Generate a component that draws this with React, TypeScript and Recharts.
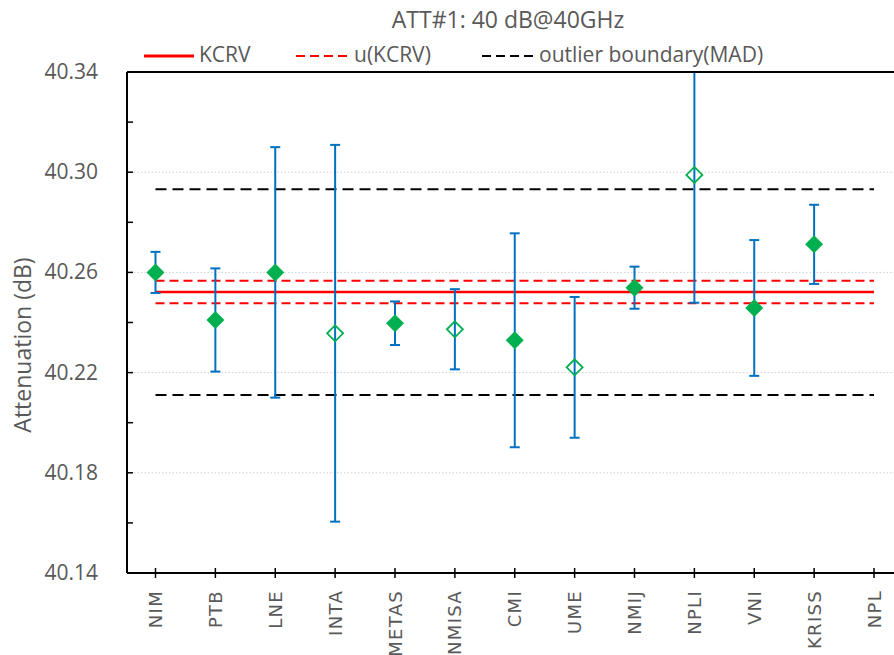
import React from 'react';
import { ComposedChart, Line, XAxis, YAxis, ErrorBar, ReferenceLine } from 'recharts';

// participants, reported values and expanded uncertainties (dB)
const labs = ['NIM', 'PTB', 'LNE', 'INTA', 'METAS', 'NMISA', 'CMI', 'UME', 'NMIJ', 'NPLI', 'VNI', 'KRISS', 'NPL'];
const means = [40.26, 40.241, 40.26, 40.2357, 40.2397, 40.2373, 40.2329, 40.2221, 40.2539, 40.2989, 40.2458, 40.2712, null];
const uncs = [0.0082, 0.0206, 0.05, 0.0752, 0.0087, 0.016, 0.0427, 0.0281, 0.0084, 0.051, 0.0271, 0.0158, null];
const outliers = [false, false, false, true, false, true, false, true, false, true, false, false, false];

const kcrv = 40.2522;
const uKcrv = 0.0045;
const madBounds = [40.2111, 40.2932];

const yTicks = [40.14, 40.16, 40.18, 40.2, 40.22, 40.24, 40.26, 40.28, 40.3, 40.32, 40.34];
const yLabelTicks = [40.14, 40.18, 40.22, 40.26, 40.3, 40.34];
const gridTicks = [40.18, 40.22, 40.26, 40.3];

const data = labs.map((lab, i) => ({ lab, val: means[i], err: uncs[i], hollow: outliers[i] }));

const PLOT_LEFT = 127;
const TXT = '#595959';
const CAL = '"Open Sans", Lato, sans-serif';

const Diamond = (p: any) => {
  const { cx, cy, payload, index } = p;
  if (payload == null || payload.val == null || cx == null || cy == null) return <g key={`d${index}`} />;
  if (payload.hollow) {
    const r = 8;
    const pts = `${cx},${cy - r} ${cx + r},${cy} ${cx},${cy + r} ${cx - r},${cy}`;
    return <polygon key={`d${index}`} points={pts} fill="none" stroke="#00B050" strokeWidth={1.8} />;
  }
  const r = 9;
  const pts = `${cx},${cy - r} ${cx + r},${cy} ${cx},${cy + r} ${cx - r},${cy}`;
  return <polygon key={`d${index}`} points={pts} fill="#00B050" />;
};

const YTick = (p: any) => {
  const { y, payload } = p;
  const major = yLabelTicks.includes(payload.value);
  return (
    <g>
      <line x1={PLOT_LEFT} x2={PLOT_LEFT + 6} y1={y} y2={y} stroke="#000" strokeWidth={1.5} />
      {major && (
        <text x={98} y={y} dy={7} textAnchor="end" fill={TXT} fontSize={21} fontFamily={CAL}>
          {payload.value.toFixed(2)}
        </text>
      )}
    </g>
  );
};

const XTick = (p: any) => {
  const { x, y, payload } = p;
  return (
    <g>
      <line x1={x} x2={x} y1={y - 5} y2={y + 5} stroke="#000" strokeWidth={1.5} />
      <text transform={`translate(${x + 6.5},${y + 17}) rotate(-90)`} textAnchor="end" fill={TXT} fontSize={18} letterSpacing={1.3} fontFamily='"DejaVu Sans", sans-serif'>
        {payload.value}
      </text>
    </g>
  );
};

const YTitle = () => (
  <text transform="translate(31,345) rotate(-90)" textAnchor="middle" fill={TXT} fontSize={23} fontFamily={CAL}>
    Attenuation (dB)
  </text>
);

const HEAD_LEFT = 128;

function LegendItem({ left, color, dash, width, label }: { left: number; color: string; dash?: string; width: number; label: string }) {
  return (
    <div style={{ position: 'absolute', left: left - HEAD_LEFT, top: 39, whiteSpace: 'nowrap', lineHeight: '30px' }}>
      <svg width={width} height={10} style={{ display: 'inline-block', verticalAlign: 'middle' }}>
        <line x1={0} x2={width} y1={5} y2={5} stroke={color} strokeWidth={dash ? 2 : 3} strokeDasharray={dash} />
      </svg>
      <span style={{ marginLeft: 5 }}>{label}</span>
    </div>
  );
}

export default function App() {
  const first = labs[0];
  const last = labs[labs.length - 1];
  return (
    <div style={{ position: 'absolute', left: 0, top: 0, width: 894, height: 655, overflow: 'hidden', background: '#fff' }}>
      <ComposedChart width={920} height={655} data={data} margin={{ top: 72, right: 18, bottom: 0, left: 0 }}>
        <XAxis
          dataKey="lab"
          type="category"
          scale="point"
          padding={{ left: 28.5, right: 28 }}
          height={82}
          interval={0}
          tickLine={false}
          tickSize={0}
          tickMargin={0}
          axisLine={{ stroke: '#000', strokeWidth: 2 }}
          tick={<XTick />}
        />
        <YAxis
          type="number"
          domain={[40.14, 40.34]}
          ticks={yTicks}
          interval={0}
          width={127}
          allowDataOverflow
          tickLine={false}
          axisLine={{ stroke: '#000', strokeWidth: 2 }}
          tick={<YTick />}
          label={<YTitle />}
        />
        {gridTicks.map((v) => (
          <ReferenceLine key={`g${v}`} y={v} stroke="#D0D0D0" strokeWidth={1} strokeDasharray="1.5 2" />
        ))}
        {madBounds.map((v) => (
          <ReferenceLine key={`m${v}`} segment={[{ x: first, y: v }, { x: last, y: v }]} stroke="#000" strokeWidth={2} strokeDasharray="11 6" />
        ))}
        <ReferenceLine segment={[{ x: first, y: kcrv + uKcrv }, { x: last, y: kcrv + uKcrv }]} stroke="#FF0000" strokeWidth={2} strokeDasharray="9 5" />
        <ReferenceLine segment={[{ x: first, y: kcrv - uKcrv }, { x: last, y: kcrv - uKcrv }]} stroke="#FF0000" strokeWidth={2} strokeDasharray="9 5" />
        <ReferenceLine segment={[{ x: first, y: kcrv }, { x: last, y: kcrv }]} stroke="#FF0000" strokeWidth={2.5} />
        <Line
          dataKey="val"
          stroke="none"
          isAnimationActive={false}
          dot={(props: any) => <Diamond {...props} />}
          activeDot={false}
          legendType="none"
        >
          <ErrorBar dataKey="err" direction="y" width={5} stroke="#0070C0" strokeWidth={2} isAnimationActive={false} />
        </Line>
        <ReferenceLine y={yTicks[yTicks.length - 1]} stroke="#000" strokeWidth={2} />
      </ComposedChart>
      {/* header band right of the y axis: title and legend, also hides error bars running above the plot */}
      <div style={{ position: 'absolute', left: HEAD_LEFT, top: 0, width: 894 - HEAD_LEFT, height: 71, background: '#fff', fontFamily: CAL, color: TXT, overflow: 'hidden' }}>
        <div style={{ position: 'absolute', left: -HEAD_LEFT, top: 3, width: 1016, textAlign: 'center', fontSize: 23 }}>ATT#1: 40 dB@40GHz</div>
        <div style={{ fontSize: 21 }}>
          <LegendItem left={144} color="#FF0000" width={50} label="KCRV" />
          <LegendItem left={296} color="#FF0000" dash="9 5" width={53} label="u(KCRV)" />
          <LegendItem left={482} color="#000" dash="9 5" width={52} label="outlier boundary(MAD)" />
        </div>
      </div>
    </div>
  );
}
